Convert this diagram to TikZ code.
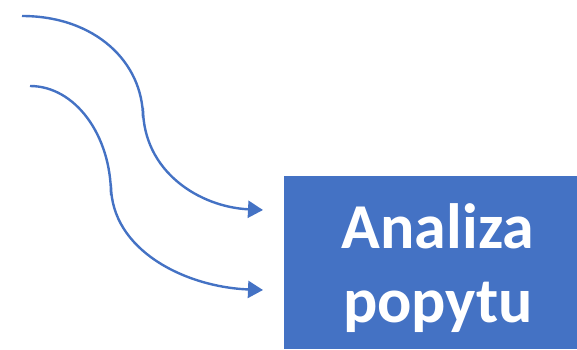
\documentclass[tikz,border=0pt]{standalone}
\usepackage{fontspec}
\setmainfont{Carlito}
\usetikzlibrary{arrows.meta}
\definecolor{officeblue}{HTML}{4472C4}
\tikzset{
  flow/.style={draw=officeblue, line width=2.4pt, -{Triangle[length=15pt,width=17pt]}},
  box/.style={fill=officeblue, draw=none, inner sep=0pt, anchor=north west}
}
\begin{document}
\begin{tikzpicture}[x=1pt,y=-1pt]
\useasboundingbox (0,0) rectangle (577,349);
\fill[officeblue] (284,176) rectangle (577,349);
\node[text=white, font=\fontsize{64}{74}\selectfont\bfseries, align=center, inner sep=0pt] (box) at (438,268) {Analiza\\popytu};
\coordinate (s1) at (22,16);
\coordinate (m1) at (143,113);
\coordinate (e1) at (263,210);
\coordinate (s2) at (30,86);
\coordinate (m2) at (111,190);
\coordinate (e2) at (263,290);
\draw[flow] (s1) .. controls (95,16) and (143,62) .. ([yshift=-5pt]m1) -- ([yshift=5pt]m1) .. controls (143,172) and (200,207) .. (e1);
\draw[flow] (s2) .. controls (75,86) and (111,135) .. ([yshift=-5pt]m2) -- ([yshift=5pt]m2) .. controls (111,250) and (185,287) .. (e2);
\end{tikzpicture}
\end{document}
